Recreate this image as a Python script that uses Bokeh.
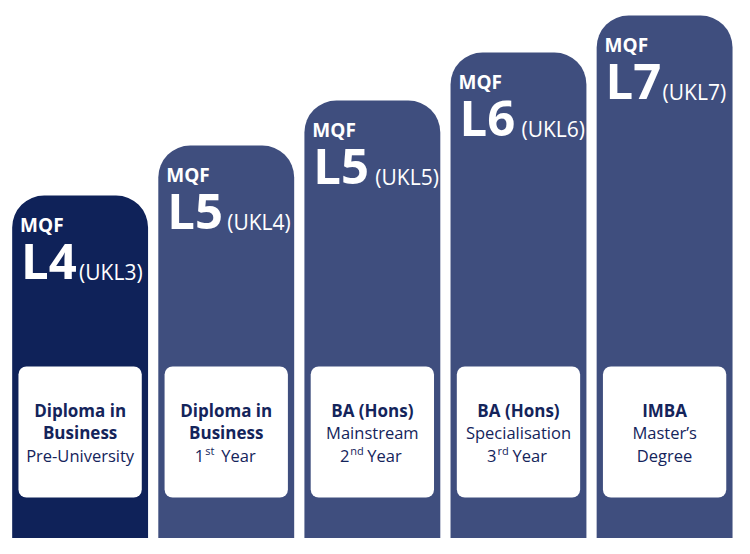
from bokeh.plotting import figure
from bokeh.models import ColumnDataSource, Range1d
from bokeh.core.properties import value
from bokeh.embed import file_html
from bokeh.resources import INLINE

# ---------------- data ----------------
framework = ["MQF", "MQF", "MQF", "MQF", "MQF"]
mqf_levels = ["L4", "L5", "L5", "L6", "L7"]
ukl_levels = ["(UKL3)", "(UKL4)", "(UKL5)", "(UKL6)", "(UKL7)"]
step_heights = [359, 409, 454, 502, 539]          # height of each step
line1 = ["Diploma in", "Diploma in", "BA (Hons)", "BA (Hons)", "IMBA"]
line2 = ["Business", "Business", "Mainstream", "Specialisation", "Master\u2019s"]
line2_bold = [True, True, False, False, False]
line3 = ["Pre-University", None, None, None, "Degree"]
year_num = [None, "1", "2", "3", None]
year_sup = [None, "st", "nd", "rd", None]

# ---------------- style / layout ----------------
FONT = value("Open Sans")
DARK = "#0f2259"
MID = "#3f4e7e"
TEXT_NAVY = "#14245b"
bar_colors = [DARK, MID, MID, MID, MID]
ukl_dx = [-1, 1, 3, 3, -2]
num_dx = [None, -22, -23, -22, None]
sup_dx = [None, -21, -22, -21, None]
yr_dx = [None, -5, -5, -6, None]
BOX_TOP, BOX_BOTTOM = 188, 57

idx = list(range(len(framework)))

p = figure(width=734, height=538, output_backend="svg", toolbar_location=None,
           x_range=Range1d(-0.5449, 4.4784), y_range=Range1d(16, 554),
           min_border=0)
p.axis.visible = False
p.grid.visible = False
p.outline_line_color = None
p.background_fill_color = "white"
p.border_fill_color = "white"

bars = ColumnDataSource(dict(x=idx, top=step_heights, color=bar_colors,
                             fw=framework, lvl=mqf_levels, ukl=ukl_levels,
                             ukl_dx=ukl_dx))
p.vbar(x="x", top="top", bottom=-30, width=0.93, fill_color="color",
       line_color=None, border_radius=(32, 32, 0, 0), source=bars)

p.vbar(x=idx, top=BOX_TOP, bottom=BOX_BOTTOM, width=0.844, fill_color="white",
       line_color=None, border_radius=8)

# header texts
p.text(x="x", y="top", text="fw", source=bars, x_offset=-60, y_offset=29,
       text_font=FONT, text_font_style="bold", text_font_size="19px",
       text_color="white", text_baseline="alphabetic", text_align="left")
p.text(x="x", y="top", text="lvl", source=bars, x_offset=-59, y_offset=64,
       text_font=FONT, text_font_style="bold", text_font_size="49px",
       text_color="white", text_baseline="alphabetic", text_align="left")
p.text(x="x", y="top", text="ukl", source=bars, x_offset="ukl_dx", y_offset=76,
       text_font=FONT, text_font_style="normal", text_font_size="21px",
       text_color="white", text_baseline="alphabetic", text_align="left")

def centered(xs, texts, dy, bold):
    src = ColumnDataSource(dict(x=xs, t=texts))
    p.text(x="x", y=BOX_TOP, text="t", source=src, y_offset=dy,
           text_font=FONT, text_font_style="bold" if bold else "normal",
           text_font_size="17px" if bold else "16.5px", text_color=TEXT_NAVY,
           text_baseline="alphabetic", text_align="center")

centered(idx, line1, 44, True)
b2 = [i for i in idx if line2_bold[i]]
n2 = [i for i in idx if not line2_bold[i]]
centered(b2, [line2[i] for i in b2], 66, True)
centered(n2, [line2[i] for i in n2], 66, False)
l3 = [i for i in idx if line3[i] is not None]
centered(l3, [line3[i] for i in l3], 89, False)

yi = [i for i in idx if year_num[i] is not None]
ysrc = ColumnDataSource(dict(x=yi, num=[year_num[i] for i in yi],
                             sup=[year_sup[i] for i in yi],
                             ndx=[num_dx[i] for i in yi],
                             sdx=[sup_dx[i] for i in yi],
                             ydx=[yr_dx[i] for i in yi],
                             yr=["Year"] * len(yi)))
p.text(x="x", y=BOX_TOP, text="num", source=ysrc, x_offset="ndx", y_offset=89,
       text_font=FONT, text_font_size="16.5px", text_color=TEXT_NAVY,
       text_baseline="alphabetic", text_align="right")
p.text(x="x", y=BOX_TOP, text="sup", source=ysrc, x_offset="sdx", y_offset=84,
       text_font=FONT, text_font_size="11px", text_color=TEXT_NAVY,
       text_baseline="alphabetic", text_align="left")
p.text(x="x", y=BOX_TOP, text="yr", source=ysrc, x_offset="ydx", y_offset=89,
       text_font=FONT, text_font_size="16.5px", text_color=TEXT_NAVY,
       text_baseline="alphabetic", text_align="left")

open("out.html", "w").write(file_html(p, INLINE))
